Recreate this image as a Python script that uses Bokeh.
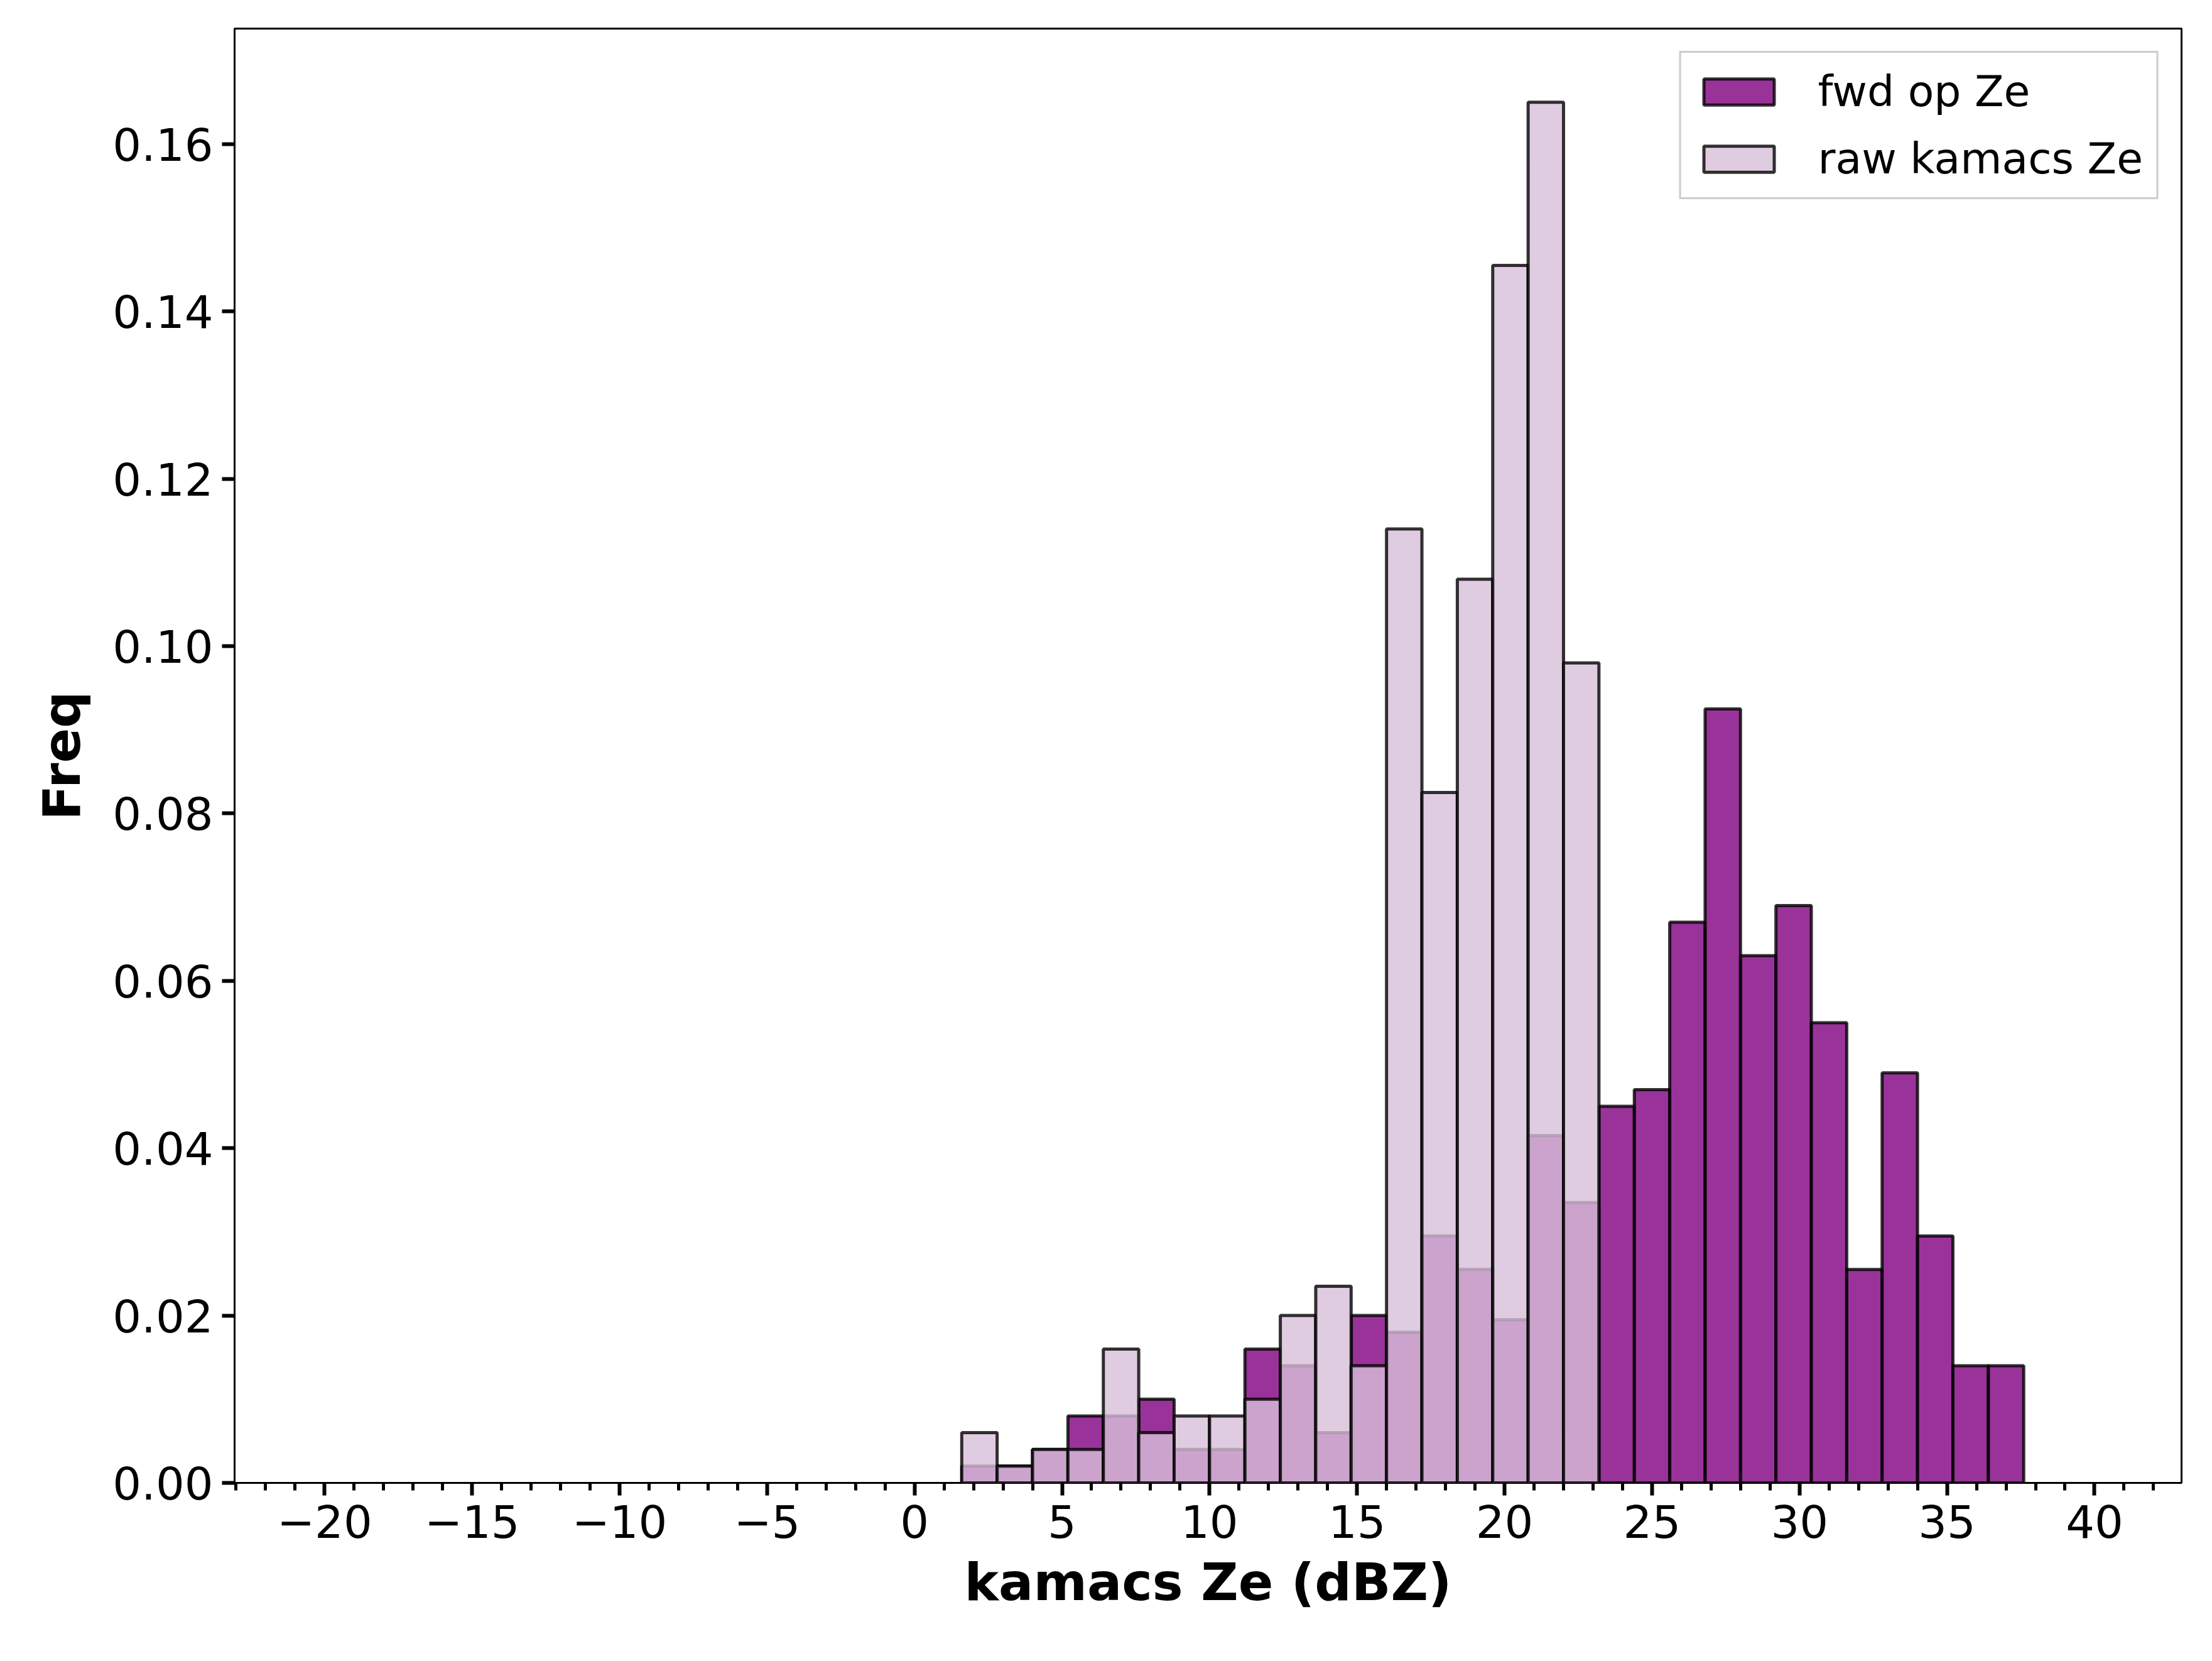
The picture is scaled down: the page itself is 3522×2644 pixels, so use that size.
from bokeh.plotting import figure
from bokeh.models import Range1d, SingleIntervalTicker, Legend, LegendItem, CustomJSTickFormatter
from bokeh.embed import file_html
from bokeh.resources import INLINE

# histogram bins: 30 bins of 1.2 dBZ from 1.6
bin_start = 1.6
bin_width = 1.2
fwd_freq = [0.002, 0.002, 0.004, 0.008, 0.008, 0.010, 0.004, 0.004, 0.016, 0.014,
            0.006, 0.020, 0.018, 0.0295, 0.0255, 0.0195, 0.0415, 0.0335, 0.045, 0.047,
            0.067, 0.0925, 0.063, 0.069, 0.055, 0.0255, 0.049, 0.0295, 0.014, 0.014]
raw_freq = [0.006, 0.002, 0.004, 0.004, 0.016, 0.006, 0.008, 0.008, 0.010, 0.020,
            0.0235, 0.014, 0.114, 0.0825, 0.108, 0.1455, 0.165, 0.098]

def edges(n):
    lefts = [bin_start + i * bin_width for i in range(n)]
    return lefts, [l + bin_width for l in lefts]

p = figure(width=3500, height=2630, output_backend="svg", toolbar_location=None,
           x_range=Range1d(-23.05, 42.95), y_range=Range1d(0, 0.1738),
           min_border_left=373, min_border_right=27, min_border_top=45, min_border_bottom=270)
p.xgrid.visible = False
p.ygrid.visible = False
p.outline_line_color = "black"
p.outline_line_width = 3

fl, fr = edges(len(fwd_freq))
r1 = p.quad(left=fl, right=fr, bottom=0, top=fwd_freq, fill_color="purple", fill_alpha=0.8,
            line_color="black", line_alpha=0.8, line_width=5)
rl, rr = edges(len(raw_freq))
r2 = p.quad(left=rl, right=rr, bottom=0, top=raw_freq, fill_color="thistle", fill_alpha=0.8,
            line_color="black", line_alpha=0.8, line_width=5)

for ax in (p.xaxis[0], p.yaxis[0]):
    ax.major_label_text_font = "DejaVu Sans"
    ax.major_label_text_font_size = "72px"
    ax.major_label_text_color = "black"
    ax.axis_label_text_font = "DejaVu Sans"
    ax.axis_label_text_font_size = "82px"
    ax.axis_label_text_font_style = "bold"
    ax.axis_label_text_color = "black"
    ax.axis_line_color = None
    ax.major_tick_line_width = 6
    ax.minor_tick_line_width = 5
    ax.major_tick_out = 20
    ax.major_tick_in = 0
    ax.minor_tick_out = 12
    ax.minor_tick_in = 0
    ax.major_label_standoff = 14

p.xaxis.axis_label_standoff = 20
p.yaxis.axis_label_standoff = 30
p.xaxis.ticker = SingleIntervalTicker(interval=5, num_minor_ticks=5)
p.yaxis.ticker = SingleIntervalTicker(interval=0.02, num_minor_ticks=0)
p.yaxis.formatter = CustomJSTickFormatter(code="return tick.toFixed(2)")
p.xaxis.formatter = CustomJSTickFormatter(code="return tick < 0 ? '\u2212' + Math.abs(tick) : '' + tick")
p.xaxis.axis_label = "kamacs Ze (dBZ)"
p.yaxis.axis_label = "Freq"

legend = Legend(items=[LegendItem(label="fwd op Ze", renderers=[r1]),
                       LegendItem(label="raw kamacs Ze", renderers=[r2])],
                location="top_right", label_text_font="DejaVu Sans", label_text_font_size="68px",
                label_text_color="black",
                glyph_width=140, glyph_height=52, spacing=28, padding=22, margin=36,
                label_standoff=56, border_line_color="#cccccc", border_line_width=3,
                border_line_alpha=1)
p.add_layout(legend)

open("out.html", "w").write(file_html(p, INLINE))
